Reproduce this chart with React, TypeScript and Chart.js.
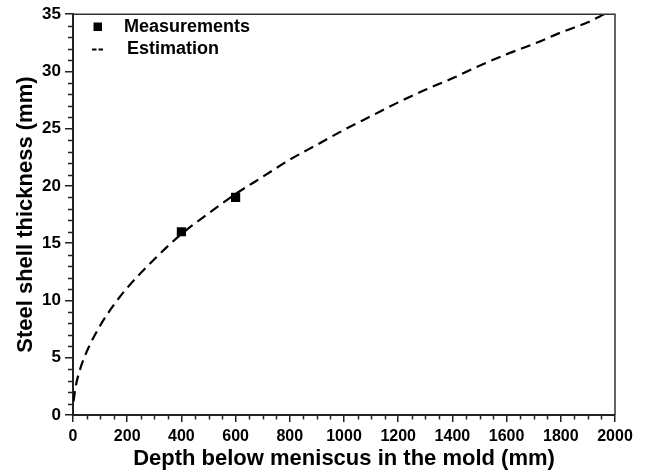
import React, { useEffect, useRef } from "react";
import { Chart, registerables } from "chart.js";

Chart.register(...registerables);

// Measured shell thickness
const measDepth = [400, 600];
const measThickness = [16, 19];

// Estimated shell growth curve
const estDepth = [2, 10, 25, 50, 100, 150, 200, 300, 400, 500, 600, 700, 800, 900, 1000, 1100, 1200, 1300, 1400, 1500, 1600, 1700, 1800, 1900, 1960];
const estThickness = [1.2, 2.5, 3.9, 5.5, 7.8, 9.6, 11.1, 13.6, 15.8, 17.6, 19.3, 20.8, 22.3, 23.6, 24.9, 26.1, 27.3, 28.4, 29.4, 30.5, 31.5, 32.4, 33.4, 34.3, 35.0];

const xMin = 0;
const xMax = 2000;
const xMajorStep = 200;
const xMinorStep = 50;
const yMin = 0;
const yMax = 35;
const yMajorStep = 5;
const yMinorStep = 1;

const FONT = "'Liberation Sans', Arial, Helvetica, sans-serif";
const INK = "#000";
const AXIS = "#222";

// Minor tick marks, top/right frame and the legend box
const decorations = {
  id: "decorations",
  afterDraw(chart: any) {
    const { ctx, chartArea } = chart;
    const xs = chart.scales.x;
    const ys = chart.scales.y;
    ctx.save();
    ctx.strokeStyle = AXIS;
    ctx.lineWidth = 1.5;
    ctx.beginPath();
    for (let v = yMin; v <= yMax; v += yMinorStep) {
      if (v % yMajorStep === 0) continue;
      const py = Math.round(ys.getPixelForValue(v)) + 0.5;
      ctx.moveTo(chartArea.left - 5, py);
      ctx.lineTo(chartArea.left, py);
    }
    for (let v = xMin; v <= xMax; v += xMinorStep) {
      if (v % xMajorStep === 0) continue;
      const px = Math.round(xs.getPixelForValue(v)) + 0.5;
      ctx.moveTo(px, chartArea.bottom);
      ctx.lineTo(px, chartArea.bottom + 4.5);
    }
    ctx.stroke();

    // frame on top and right
    ctx.lineWidth = 1.5;
    ctx.strokeStyle = "#333";
    ctx.beginPath();
    ctx.moveTo(chartArea.left, chartArea.top);
    ctx.lineTo(chartArea.right, chartArea.top);
    ctx.lineTo(chartArea.right, chartArea.bottom);
    ctx.stroke();

    // legend
    const ds = chart.data.datasets;
    ctx.fillStyle = INK;
    ctx.fillRect(93.5, 22.5, 8.5, 8.5);
    ctx.strokeStyle = INK;
    ctx.lineWidth = 2;
    ctx.beginPath();
    ctx.moveTo(92, 49.5);
    ctx.lineTo(96.5, 49.5);
    ctx.moveTo(98.5, 49.5);
    ctx.lineTo(103, 49.5);
    ctx.stroke();
    ctx.font = `bold 18px ${FONT}`;
    ctx.textBaseline = "middle";
    ctx.textAlign = "left";
    ctx.fillText(ds[0].label, 124, 27);
    ctx.fillText(ds[1].label, 127, 49);
    ctx.restore();
  },
};

export default function App() {
  const canvasRef = useRef<HTMLCanvasElement | null>(null);

  useEffect(() => {
    if (!canvasRef.current) return;
    const chart = new Chart(canvasRef.current, {
      type: "scatter",
      data: {
        datasets: [
          {
            label: "Measurements",
            data: measDepth.map((x, i) => ({ x, y: measThickness[i] })),
            showLine: false,
            pointStyle: "rect",
            pointRadius: 6.5,
            pointBackgroundColor: INK,
            pointBorderColor: INK,
            pointBorderWidth: 0,
            order: 0,
          },
          {
            label: "Estimation",
            data: estDepth.map((x, i) => ({ x, y: estThickness[i] })),
            showLine: true,
            borderColor: INK,
            borderWidth: 2.2,
            borderDash: [10, 6],
            pointRadius: 0,
            cubicInterpolationMode: "monotone",
            order: 1,
          },
        ],
      },
      options: {
        responsive: false,
        animation: false,
        events: [],
        layout: { padding: { top: 12, right: 35, left: 0, bottom: 0 } },
        plugins: {
          legend: { display: false },
          tooltip: { enabled: false },
        },
        scales: {
          x: {
            type: "linear",
            min: xMin,
            max: xMax,
            afterFit(scale: any) {
              scale.height = 58;
            },
            ticks: {
              stepSize: xMajorStep,
              color: INK,
              padding: 5,
              maxRotation: 0,
              callback: (v: any) => String(v),
              font: { family: FONT, size: 16, weight: "bold" },
            },
            grid: {
              drawOnChartArea: false,
              drawTicks: true,
              tickLength: 7,
              color: AXIS,
              lineWidth: 1.5,
            },
            border: { color: AXIS, width: 2 },
            title: {
              display: true,
              text: "Depth below meniscus in the mold (mm)",
              color: INK,
              font: { family: FONT, size: 22, weight: "bold" },
              padding: { top: 0, bottom: 1 },
            },
          },
          y: {
            type: "linear",
            min: yMin,
            max: yMax,
            afterFit(scale: any) {
              scale.width = 73;
            },
            ticks: {
              stepSize: yMajorStep,
              color: INK,
              padding: 4,
              callback: (v: any) => String(v),
              font: { family: FONT, size: 17, weight: "bold" },
            },
            grid: {
              drawOnChartArea: false,
              drawTicks: true,
              tickLength: 8,
              color: AXIS,
              lineWidth: 1.5,
            },
            border: { color: AXIS, width: 2 },
            title: {
              display: true,
              text: "Steel shell thickness (mm)",
              color: INK,
              font: { family: FONT, size: 22, weight: "bold" },
              padding: { top: 13, bottom: 0 },
            },
          },
        },
      },
      plugins: [decorations],
    });
    return () => chart.destroy();
  }, []);

  return (
    <div style={{ position: "absolute", left: 0, top: 0, width: 650, height: 473, background: "#fff" }}>
      <canvas ref={canvasRef} width={650} height={473} />
    </div>
  );
}
